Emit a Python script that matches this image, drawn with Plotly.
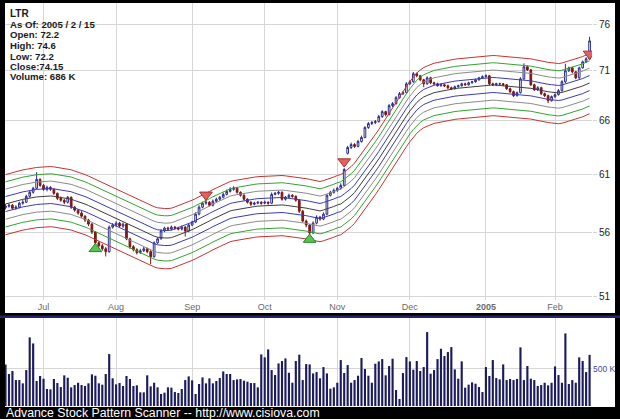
import plotly.graph_objects as go

# ---------------- data ----------------
# bar index 0 = 2004-06-16 ... 169 = 2005-02-15 (trading days)
month_ticks = [11, 32, 54, 75, 96, 117, 139, 159]
month_text = ["Jul", "Aug", "Sep", "Oct", "Nov", "Dec", "<b>2005</b>", "Feb"]
price_ticks = [51, 56, 61, 66, 71, 76]
vol_ticks = [500]
vol_tick_text = ["500 K"]

opens = [58.10, 58.22, 58.31, 58.05, 58.14, 58.48, 58.56, 59.07, 59.42, 59.77,
         60.55, 60.02, 59.68, 59.85, 59.68, 59.33, 58.90, 58.73, 58.56, 58.99,
         58.14, 57.89, 57.64, 57.38, 57.06, 56.72, 56.07, 55.19, 54.95, 54.71,
         54.48, 56.47, 56.64, 56.80, 56.56, 56.72, 55.51, 54.87, 54.63, 54.40,
         54.55, 54.71, 54.48, 54.08, 55.19, 55.51, 56.15, 56.39, 56.31, 56.47,
         56.39, 56.31, 56.47, 56.15, 56.64, 56.89, 57.55, 58.14, 58.48, 58.56,
         58.31, 58.65, 58.82, 58.99, 59.24, 59.50, 59.68, 59.77, 59.42, 59.16,
         58.82, 58.56, 58.39, 58.48, 58.56, 58.48, 58.56, 58.48, 59.24, 59.33,
         59.42, 58.82, 58.99, 59.16, 59.07, 58.73, 57.80, 56.97, 56.64, 55.99,
         56.80, 57.30, 57.14, 57.55, 59.16, 59.42, 59.59, 59.77, 60.02, 62.90,
         63.44, 63.72, 63.54, 64.00, 64.38, 65.32, 65.70, 65.80, 65.89, 66.38,
         66.86, 66.57, 67.45, 67.65, 68.24, 68.64, 68.74, 69.64, 69.85, 70.67,
         70.46, 70.05, 69.64, 70.25, 69.74, 69.64, 69.44, 69.54, 69.44, 69.24,
         69.14, 69.34, 69.44, 69.64, 69.54, 69.74, 69.85, 70.05, 70.25, 70.36,
         70.46, 69.64, 69.54, 69.64, 69.64, 69.54, 69.14, 68.84, 68.44, 68.74,
         70.15, 71.39, 71.08, 69.54, 69.04, 69.24, 68.64, 68.44, 67.94, 68.34,
         68.54, 68.94, 69.85, 70.98, 71.28, 70.87, 70.25, 71.28, 71.91, 72.20]

highs = [58.40, 58.45, 58.40, 58.30, 58.60, 58.75, 59.20, 59.55, 59.90, 61.20,
         60.65, 60.15, 60.00, 59.95, 59.75, 59.40, 59.05, 58.85, 59.10, 59.05,
         58.25, 57.95, 57.80, 57.45, 57.15, 56.80, 56.15, 55.30, 55.10, 54.85,
         56.60, 56.80, 56.95, 56.90, 56.85, 56.80, 55.60, 55.00, 54.75, 54.70,
         54.85, 54.80, 54.60, 55.30, 55.65, 56.30, 56.50, 56.50, 56.60, 56.55,
         56.50, 56.60, 56.55, 56.75, 57.00, 57.70, 58.30, 58.60, 58.75, 58.65,
         58.80, 58.95, 59.10, 59.40, 59.65, 59.85, 59.95, 59.85, 59.50, 59.25,
         58.90, 58.65, 58.60, 58.65, 58.65, 58.70, 58.65, 59.40, 59.45, 59.55,
         59.50, 59.10, 59.30, 59.25, 59.15, 58.80, 57.90, 57.10, 56.70, 56.95,
         57.45, 57.40, 57.70, 59.25, 59.55, 59.75, 59.90, 60.20, 61.55, 63.60,
         63.90, 63.85, 64.15, 64.55, 65.45, 65.85, 65.95, 66.05, 66.55, 67.00,
         66.95, 67.60, 67.80, 68.40, 68.80, 68.90, 69.80, 70.00, 70.85, 70.80,
         70.55, 70.15, 70.40, 70.35, 69.85, 69.75, 69.65, 69.65, 69.55, 69.35,
         69.45, 69.55, 69.75, 69.75, 69.85, 69.95, 70.15, 70.35, 70.50, 70.60,
         70.55, 69.75, 69.75, 69.75, 69.70, 69.60, 69.25, 68.95, 68.85, 70.30,
         71.75, 71.50, 71.15, 69.65, 69.40, 69.35, 68.75, 68.55, 68.45, 68.65,
         69.10, 70.00, 71.70, 71.40, 71.40, 70.95, 71.40, 72.05, 72.40, 74.60]

lows = [57.95, 58.10, 57.90, 57.92, 58.05, 58.35, 58.50, 58.95, 59.30, 59.70,
        59.90, 59.55, 59.50, 59.55, 59.20, 58.75, 58.60, 58.40, 58.45, 58.00,
        57.75, 57.50, 57.25, 56.90, 56.55, 55.90, 55.00, 54.80, 54.55, 54.10,
        54.40, 56.35, 56.50, 56.45, 56.40, 55.40, 54.70, 54.50, 54.25, 54.30,
        54.45, 54.35, 53.50, 54.00, 55.10, 55.45, 56.05, 56.20, 56.20, 56.25,
        56.20, 56.20, 55.70, 56.05, 56.55, 56.80, 57.45, 58.05, 58.35, 58.20,
        58.20, 58.55, 58.70, 58.90, 59.15, 59.40, 59.55, 59.30, 59.05, 58.70,
        58.45, 58.25, 58.30, 58.40, 58.35, 58.40, 58.35, 58.40, 59.15, 59.20,
        58.70, 58.70, 58.90, 58.95, 58.60, 57.65, 56.85, 56.45, 55.75, 55.90,
        56.70, 57.00, 57.05, 57.45, 59.05, 59.30, 59.45, 59.65, 59.95, 62.80,
        63.30, 63.40, 63.45, 63.90, 64.30, 65.20, 65.55, 65.65, 65.80, 66.25,
        66.40, 66.50, 67.30, 67.55, 68.15, 68.50, 68.65, 69.50, 69.75, 70.30,
        69.90, 69.30, 69.55, 69.60, 69.50, 69.35, 69.35, 69.30, 69.10, 69.00,
        69.05, 69.25, 69.35, 69.45, 69.45, 69.65, 69.75, 69.95, 70.15, 70.25,
        69.50, 69.40, 69.40, 69.50, 69.40, 69.00, 68.70, 68.30, 68.35, 68.65,
        70.05, 70.95, 69.40, 68.90, 68.90, 68.50, 68.30, 67.70, 67.85, 68.20,
        68.45, 68.85, 69.70, 70.85, 70.70, 70.10, 70.15, 71.20, 71.80, 72.20]

closes = [58.22, 58.31, 58.05, 58.14, 58.48, 58.56, 59.07, 59.42, 59.77, 60.55,
          60.02, 59.68, 59.85, 59.68, 59.33, 58.90, 58.73, 58.56, 58.99, 58.14,
          57.89, 57.64, 57.38, 57.06, 56.72, 56.07, 55.19, 54.95, 54.71, 54.48,
          56.47, 56.64, 56.80, 56.56, 56.72, 55.51, 54.87, 54.63, 54.40, 54.55,
          54.71, 54.48, 54.08, 55.19, 55.51, 56.15, 56.39, 56.31, 56.47, 56.39,
          56.31, 56.47, 56.15, 56.64, 56.89, 57.55, 58.14, 58.48, 58.56, 58.31,
          58.65, 58.82, 58.99, 59.24, 59.50, 59.68, 59.77, 59.42, 59.16, 58.82,
          58.56, 58.39, 58.48, 58.56, 58.48, 58.56, 58.48, 59.24, 59.33, 59.42,
          58.82, 58.99, 59.16, 59.07, 58.73, 57.80, 56.97, 56.64, 55.99, 56.80,
          57.30, 57.14, 57.55, 59.16, 59.42, 59.59, 59.77, 60.02, 61.44, 63.44,
          63.72, 63.54, 64.00, 64.38, 65.32, 65.70, 65.80, 65.89, 66.38, 66.86,
          66.57, 67.45, 67.65, 68.24, 68.64, 68.74, 69.64, 69.85, 70.67, 70.46,
          70.05, 69.64, 70.25, 69.74, 69.64, 69.44, 69.54, 69.44, 69.24, 69.14,
          69.34, 69.44, 69.64, 69.54, 69.74, 69.85, 70.05, 70.25, 70.36, 70.46,
          69.64, 69.54, 69.64, 69.64, 69.54, 69.14, 68.84, 68.44, 68.74, 70.15,
          71.39, 71.08, 69.54, 69.04, 69.24, 68.64, 68.44, 67.94, 68.34, 68.54,
          68.94, 69.85, 70.98, 71.28, 70.87, 70.25, 71.28, 71.91, 72.23, 74.15]

volume_k = [558, 429, 469, 348, 348, 304, 482, 920, 839, 335,
            402, 366, 228, 223, 362, 308, 254, 411, 379, 250,
            281, 312, 281, 268, 304, 424, 406, 304, 286, 429,
            696, 371, 290, 308, 268, 402, 362, 268, 277, 183,
            183, 411, 263, 312, 250, 161, 179, 250, 246, 187,
            174, 228, 348, 397, 344, 161, 295, 384, 304, 371,
            304, 335, 375, 464, 429, 429, 348, 357, 362, 339,
            326, 308, 308, 250, 692, 652, 759, 482, 415, 571,
            603, 638, 446, 312, 603, 688, 348, 562,
            558, 437, 455, 371, 522, 437, 232, 250, 312, 616,
            442, 549, 312, 348, 406, 643, 496, 406, 312, 567,
            598, 629, 411, 536, 634, 214, 94, 442, 656, 598,
            487, 603, 469, 522, 991, 433, 482, 629, 768, 670,
            723, 790, 491, 366, 598, 246, 286, 317, 299, 254,
            187, 522, 402, 616, 375, 357, 558, 348, 362, 348,
            362, 786, 348, 536, 366, 348, 268, 281, 312, 277,
            312, 531, 415, 312, 973, 295, 348, 312, 652, 603,
            455, 686]

# smooth channel midline
channel_mid = [58.41, 58.50, 58.58, 58.67, 58.76, 58.81, 58.86, 58.93, 58.98, 59.02,
               59.04, 59.07, 59.08, 59.10, 59.07, 59.02, 58.99, 58.95, 58.91, 58.82,
               58.71, 58.62, 58.52, 58.41, 58.28, 58.14, 58.01, 57.88, 57.74, 57.60,
               57.46, 57.32, 57.19, 57.04, 56.90, 56.75, 56.61, 56.48, 56.35, 56.23,
               56.08, 55.94, 55.81, 55.73, 55.64, 55.58, 55.58, 55.58, 55.61, 55.71,
               55.81, 55.91, 56.00, 56.13, 56.26, 56.40, 56.53, 56.67, 56.82, 56.98,
               57.14, 57.28, 57.43, 57.57, 57.70, 57.82, 57.89, 57.95, 58.00, 58.06,
               58.12, 58.17, 58.19, 58.23, 58.25, 58.29, 58.31, 58.33, 58.33, 58.33,
               58.33, 58.30, 58.27, 58.23, 58.20, 58.17, 58.12, 58.06, 58.00, 57.94,
               57.88, 57.82, 57.90, 57.99, 58.07, 58.20, 58.33, 58.41, 58.63, 58.84,
               59.10, 59.40, 59.80, 60.19, 60.59, 61.03, 61.48, 61.93, 62.39, 62.89,
               63.40, 63.91, 64.42, 64.95, 65.47, 65.95, 66.44, 66.92, 67.36, 67.76,
               68.06, 68.31, 68.46, 68.61, 68.74, 68.81, 68.89, 68.97, 69.04, 69.11,
               69.15, 69.19, 69.22, 69.26, 69.30, 69.33, 69.36, 69.40, 69.44, 69.48,
               69.52, 69.52, 69.50, 69.47, 69.44, 69.41, 69.38, 69.36, 69.34, 69.32,
               69.28, 69.26, 69.18, 69.11, 69.03, 68.96, 68.89, 68.83, 68.79, 68.75,
               68.71, 68.76, 68.86, 68.96, 69.06, 69.16, 69.28, 69.41, 69.57, 69.72]

band_pct = [4.4, 3.3, 2.2, 1.1, 0.0, -1.1, -2.2, -3.3, -4.4]
band_colors = ["#c83232", "#2fa52f", "#8a8a8a", "#3a3ab4", "#3c3c3c",
               "#3a3ab4", "#8a8a8a", "#2fa52f", "#c83232"]

sell_idx = [58, 98, 169]
sell_price = [59.2, 62.15, 72.75]
buy_idx = [26, 88]
buy_price = [54.7, 55.45]

info_lines = ["<b>LTR</b>", "<b>As Of: 2005 / 2 / 15</b>", "<b>Open: 72.2</b>",
              "<b>High: 74.6</b>", "<b>Low: 72.2</b>", "<b>Close:74.15</b>",
              "<b>Volume: 686 K</b>"]
footer = "Advance Stock Pattern Scanner -- http://www.cisiova.com"

# ---------------- figure ----------------
W, H = 620, 419
ML, MR, MT, MB = 5, 28, 3, 13
PW = W - ML - MR
PH = H - MT - MB


def py(pix):  # pixel y -> paper y
    return (H - MB - pix) / PH


def px(pix):  # pixel x -> paper x
    return (pix - ML) / PW


x_idx = list(range(len(closes)))

fig = go.Figure()

for pct, col in zip(band_pct, band_colors):
    fig.add_trace(go.Scatter(
        x=x_idx, y=[m * (1 + pct / 100.0) for m in channel_mid],
        mode="lines", line=dict(color=col, width=1), hoverinfo="skip",
        xaxis="x", yaxis="y"))

fig.add_trace(go.Candlestick(
    x=x_idx, open=opens, high=highs, low=lows, close=closes,
    increasing=dict(line=dict(color="#2b2b8c", width=1), fillcolor="#ffffff"),
    decreasing=dict(line=dict(color="#7a1515", width=1), fillcolor="#8b1c1c"),
    whiskerwidth=0, xaxis="x", yaxis="y"))

fig.add_trace(go.Scatter(
    x=sell_idx, y=sell_price, mode="markers",
    marker=dict(symbol="triangle-down", size=11, color="#e26060",
                line=dict(color="#a83030", width=1)),
    xaxis="x", yaxis="y"))
fig.add_trace(go.Scatter(
    x=buy_idx, y=buy_price, mode="markers",
    marker=dict(symbol="triangle-up", size=11, color="#55c455",
                line=dict(color="#208a20", width=1)),
    xaxis="x", yaxis="y"))

fig.add_trace(go.Bar(
    x=x_idx, y=volume_k, width=0.62, marker=dict(color="#1b1b5e", line=dict(width=0)),
    xaxis="x2", yaxis="y2"))

shapes = [
    dict(type="rect", xref="paper", yref="paper", x0=px(5), x1=px(615),
         y0=py(313), y1=py(3), fillcolor="white", line=dict(width=0), layer="below"),
    dict(type="rect", xref="paper", yref="paper", x0=px(5), x1=px(615),
         y0=py(407), y1=py(318), fillcolor="white", line=dict(width=0), layer="below"),
    dict(type="rect", xref="paper", yref="paper", x0=px(0), x1=px(620),
         y0=py(318), y1=py(315.5), fillcolor="#23236e", line=dict(width=0), layer="below"),
]

annotations = []
info_y = [13, 24, 35, 45.5, 56, 66.5, 77]
for txt, yy in zip(info_lines, info_y):
    annotations.append(dict(
        text=txt, xref="paper", yref="paper", x=px(9), y=py(yy),
        xanchor="left", yanchor="middle", showarrow=False, borderpad=0,
        font=dict(family="Arial, Liberation Sans, sans-serif",
                  size=9.6 if txt != info_lines[0] else 10, color="#1a1a1a")))
annotations.append(dict(
    text=footer, xref="paper", yref="paper", x=px(4), y=py(413),
    xanchor="left", yanchor="middle", showarrow=False,
    font=dict(family="Arial, Liberation Sans, sans-serif", size=12.3, color="white")))

xr = [-0.15, 169.7]
fig.update_layout(
    width=W, height=H, margin=dict(l=ML, r=MR, t=MT, b=MB),
    paper_bgcolor="#000000", plot_bgcolor="#ffffff",
    showlegend=False, hovermode=False,
    shapes=shapes, annotations=annotations,
    xaxis=dict(domain=[0, 1], range=xr, anchor="y", rangeslider=dict(visible=False),
               tickmode="array", tickvals=month_ticks, ticktext=month_text,
               showgrid=True, gridcolor="#d6d6d6", gridwidth=1, ticks="",
               tickfont=dict(family="Arial, Liberation Sans, sans-serif", size=9, color="#6a6a6a"),
               zeroline=False, showline=False),
    yaxis=dict(domain=[py(300), 1], type="log",
               range=[1.70552, 1.89416], side="right", anchor="x",
               tickmode="array", tickvals=price_ticks,
               ticktext=[str(v) for v in price_ticks],
               showgrid=True, gridcolor="#d6d6d6", gridwidth=1,
               ticks="outside", ticklen=4, tickcolor="#d6d6d6",
               tickfont=dict(family="Arial, Liberation Sans, sans-serif", size=10, color="#222222"),
               zeroline=False, showline=False),
    xaxis2=dict(domain=[0, 1], range=xr, anchor="y2", matches="x",
                tickmode="array", tickvals=month_ticks, showticklabels=False,
                showgrid=True, gridcolor="#d6d6d6", gridwidth=1, ticks="",
                zeroline=False, showline=False),
    yaxis2=dict(domain=[0, py(318)], range=[0, 1180], side="right", anchor="x2",
                tickmode="array", tickvals=vol_ticks, ticktext=vol_tick_text,
                showgrid=True, gridcolor="#d6d6d6", gridwidth=1, ticks="",
                ticklabelstandoff=0,
                tickfont=dict(family="Arial, Liberation Sans, sans-serif", size=8.5, color="#4a4aa0"),
                zeroline=False, showline=False),
)

fig.write_html(
    "out.html",
    config={"displayModeBar": False, "staticPlot": True},
    post_script="document.body.style.margin='0';document.body.style.padding='0';"
                "document.body.style.background='#000000';",
)
